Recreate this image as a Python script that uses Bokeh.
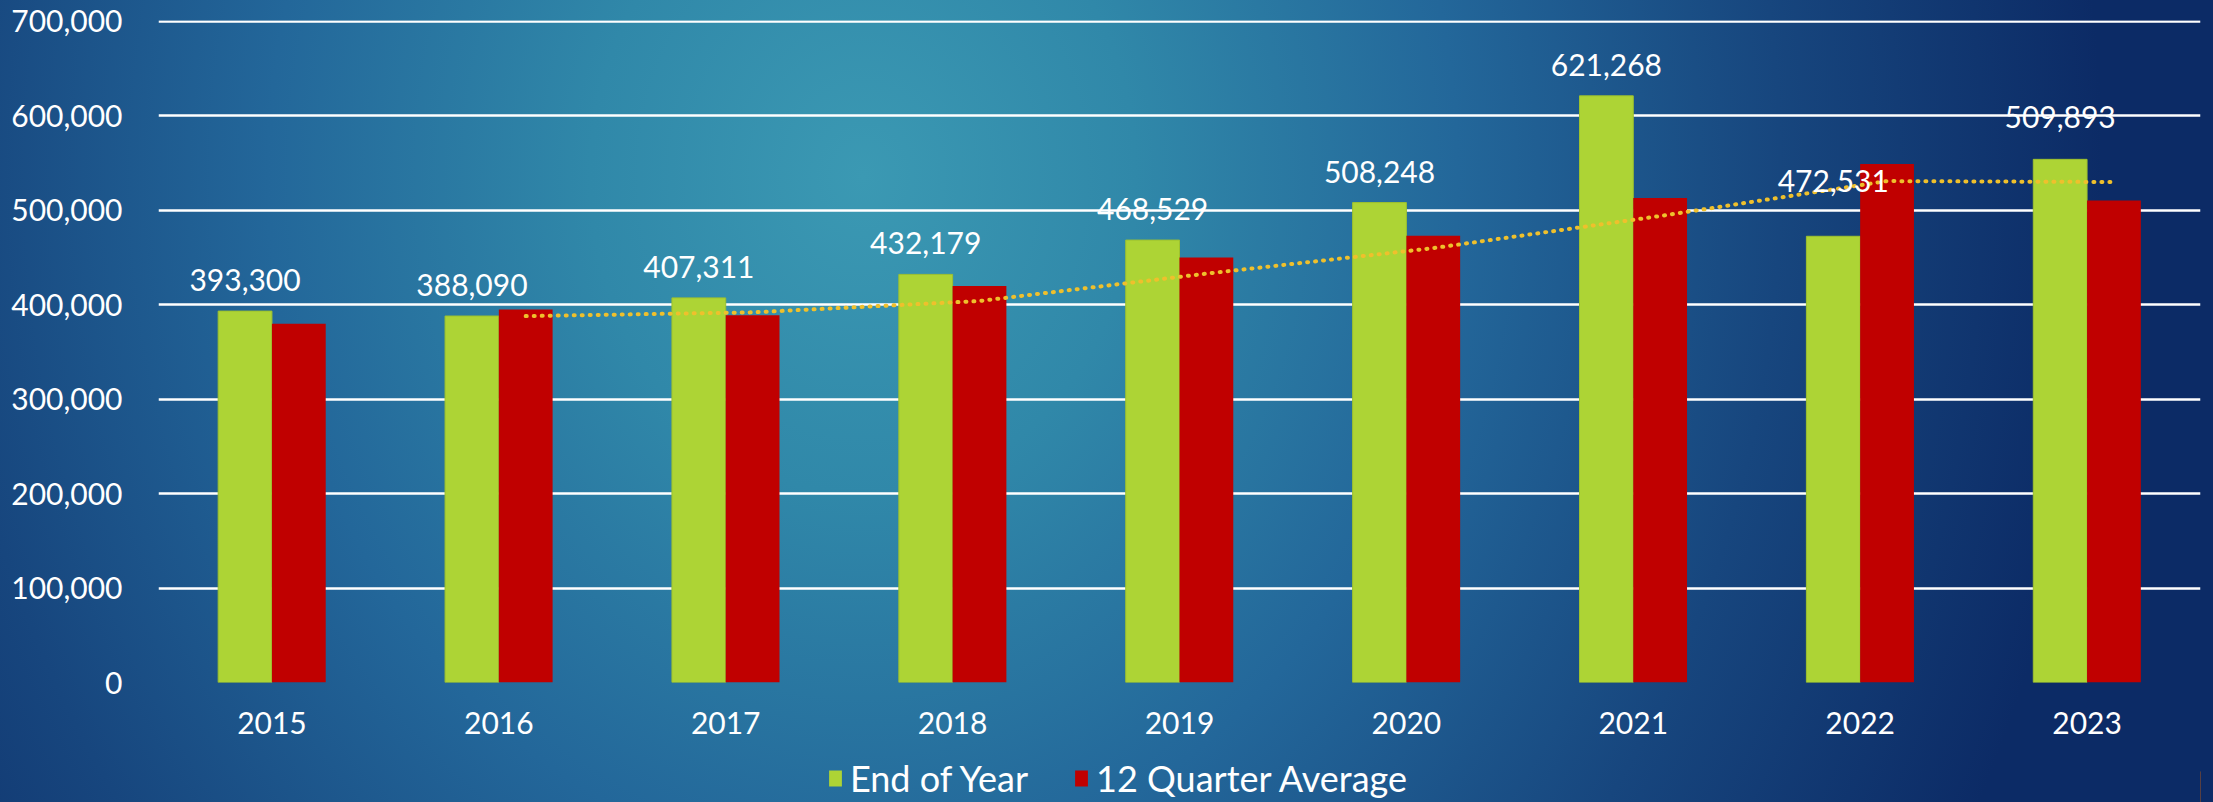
from bokeh.plotting import figure
from bokeh.layouts import column
from bokeh.models import (FactorRange, Range1d, ColumnDataSource, Legend, LegendItem,
                          NumeralTickFormatter, SingleIntervalTicker)
from bokeh.transform import dodge
from bokeh.core.properties import value
from bokeh.embed import file_html
from bokeh.resources import INLINE

# ---- data ----
years = ["2015", "2016", "2017", "2018", "2019", "2020", "2021", "2022", "2023"]
end_of_year = [393300, 388090, 407311, 432179, 468529, 508248, 621268, 472531, 554000]
quarter_avg = [380000, 395000, 389000, 420000, 450000, 473000, 513000, 549000, 510500]
label_texts = ["393,300", "388,090", "407,311", "432,179", "468,529", "508,248",
               "621,268", "472,531", "509,893"]
trend_years = ["2016", "2017", "2018", "2019", "2020", "2021", "2022", "2023"]
trend_values = [388000, 392000, 404000, 433000, 460000, 494000, 531000, 530000]
series_names = ["End of Year", "12 Quarter Average"]
y_ticks_step = 100000
y_max = 700000

# ---- styling ----
FONT = "Lato"
GREEN = "#ADD435"
RED = "#C00000"
GOLD = "#EFC02C"
label_dy = [-31, -31, -31, -31, -31, -31, -31, -55, -42]

src = ColumnDataSource(dict(years=years, eoy=end_of_year, qa=quarter_avg,
                            txt=label_texts, dy=label_dy))
tsrc = ColumnDataSource(dict(years=trend_years, tv=trend_values))

p = figure(width=2213, height=740, x_range=FactorRange(*years),
           y_range=Range1d(0, y_max * 1.0015), output_backend="svg", toolbar_location=None,
           min_border_left=158, min_border_right=13, min_border_top=20,
           min_border_bottom=58)
p.background_fill_color = None
p.border_fill_color = None
p.outline_line_color = None

bw = 0.237
p.vbar(x=dodge("years", -bw / 2, range=p.x_range), top="eoy", width=bw,
       source=src, fill_color=GREEN, line_color="#9DC12E", line_width=1)
p.vbar(x=dodge("years", bw / 2, range=p.x_range), top="qa", width=bw,
       source=src, fill_color=RED, line_color=None)
p.line(x=dodge("years", bw / 2, range=p.x_range), y="tv", source=tsrc,
       line_color=GOLD, line_width=4, line_dash="1 7", line_cap="round")

p.text(x=dodge("years", -bw / 2, range=p.x_range), y="eoy", text="txt", source=src,
       y_offset="dy", text_align="center", text_baseline="middle",
       text_color="white", text_font=value(FONT), text_font_size="30px")

# axes
p.yaxis.ticker = SingleIntervalTicker(interval=y_ticks_step)
p.yaxis.formatter = NumeralTickFormatter(format="0,0")
for ax in (p.xaxis[0], p.yaxis[0]):
    ax.axis_line_color = None
    ax.major_tick_line_color = None
    ax.minor_tick_line_color = None
    ax.major_tick_out = 0
    ax.major_tick_in = 0
    ax.major_label_text_color = "white"
    ax.major_label_text_font = FONT
    ax.major_label_text_font_size = "30px"
p.yaxis.major_label_standoff = 32
p.xaxis.major_label_standoff = 29

p.xgrid.grid_line_color = None
p.ygrid.grid_line_color = "white"
p.ygrid.grid_line_width = 2.5
p.ygrid.ticker = SingleIntervalTicker(interval=y_ticks_step)

# ---- legend strip (separate small figure below the chart) ----
p2 = figure(width=2213, height=62, x_range=(0, 1), y_range=(0, 1),
            output_backend="svg", toolbar_location=None, min_border=0,
            x_axis_location=None, y_axis_location=None)
p2.grid.visible = False
p2.background_fill_color = None
p2.border_fill_color = None
p2.outline_line_color = None
# legend-only renderers: their single bar lies outside the visible range
lg = p2.vbar(x=[5], top=[0.5], width=0.1, fill_color=GREEN, line_color=None)
lr = p2.vbar(x=[5], top=[0.5], width=0.1, fill_color=RED, line_color=None)

legend = Legend(items=[LegendItem(label=series_names[0], renderers=[lg]),
                       LegendItem(label=series_names[1], renderers=[lr])],
                orientation="horizontal", location=(669, 2))
legend.background_fill_alpha = 0
legend.border_line_color = None
legend.label_text_color = "white"
legend.label_text_font = FONT
legend.label_text_font_size = "36px"
legend.glyph_width = 16
legend.glyph_height = 20
legend.label_standoff = 7
legend.spacing = 45
legend.padding = 6
legend.margin = 0
p2.add_layout(legend)

layout = column(p, p2, spacing=0)
layout.styles = {"background": "radial-gradient(ellipse 56% 180% at 39% 22%, #3b99b3 0%, #3088a9 22%, #23679a 48%, #17467e 74%, #0c2b66 100%)"}

open("out.html", "w").write(file_html(layout, INLINE))
